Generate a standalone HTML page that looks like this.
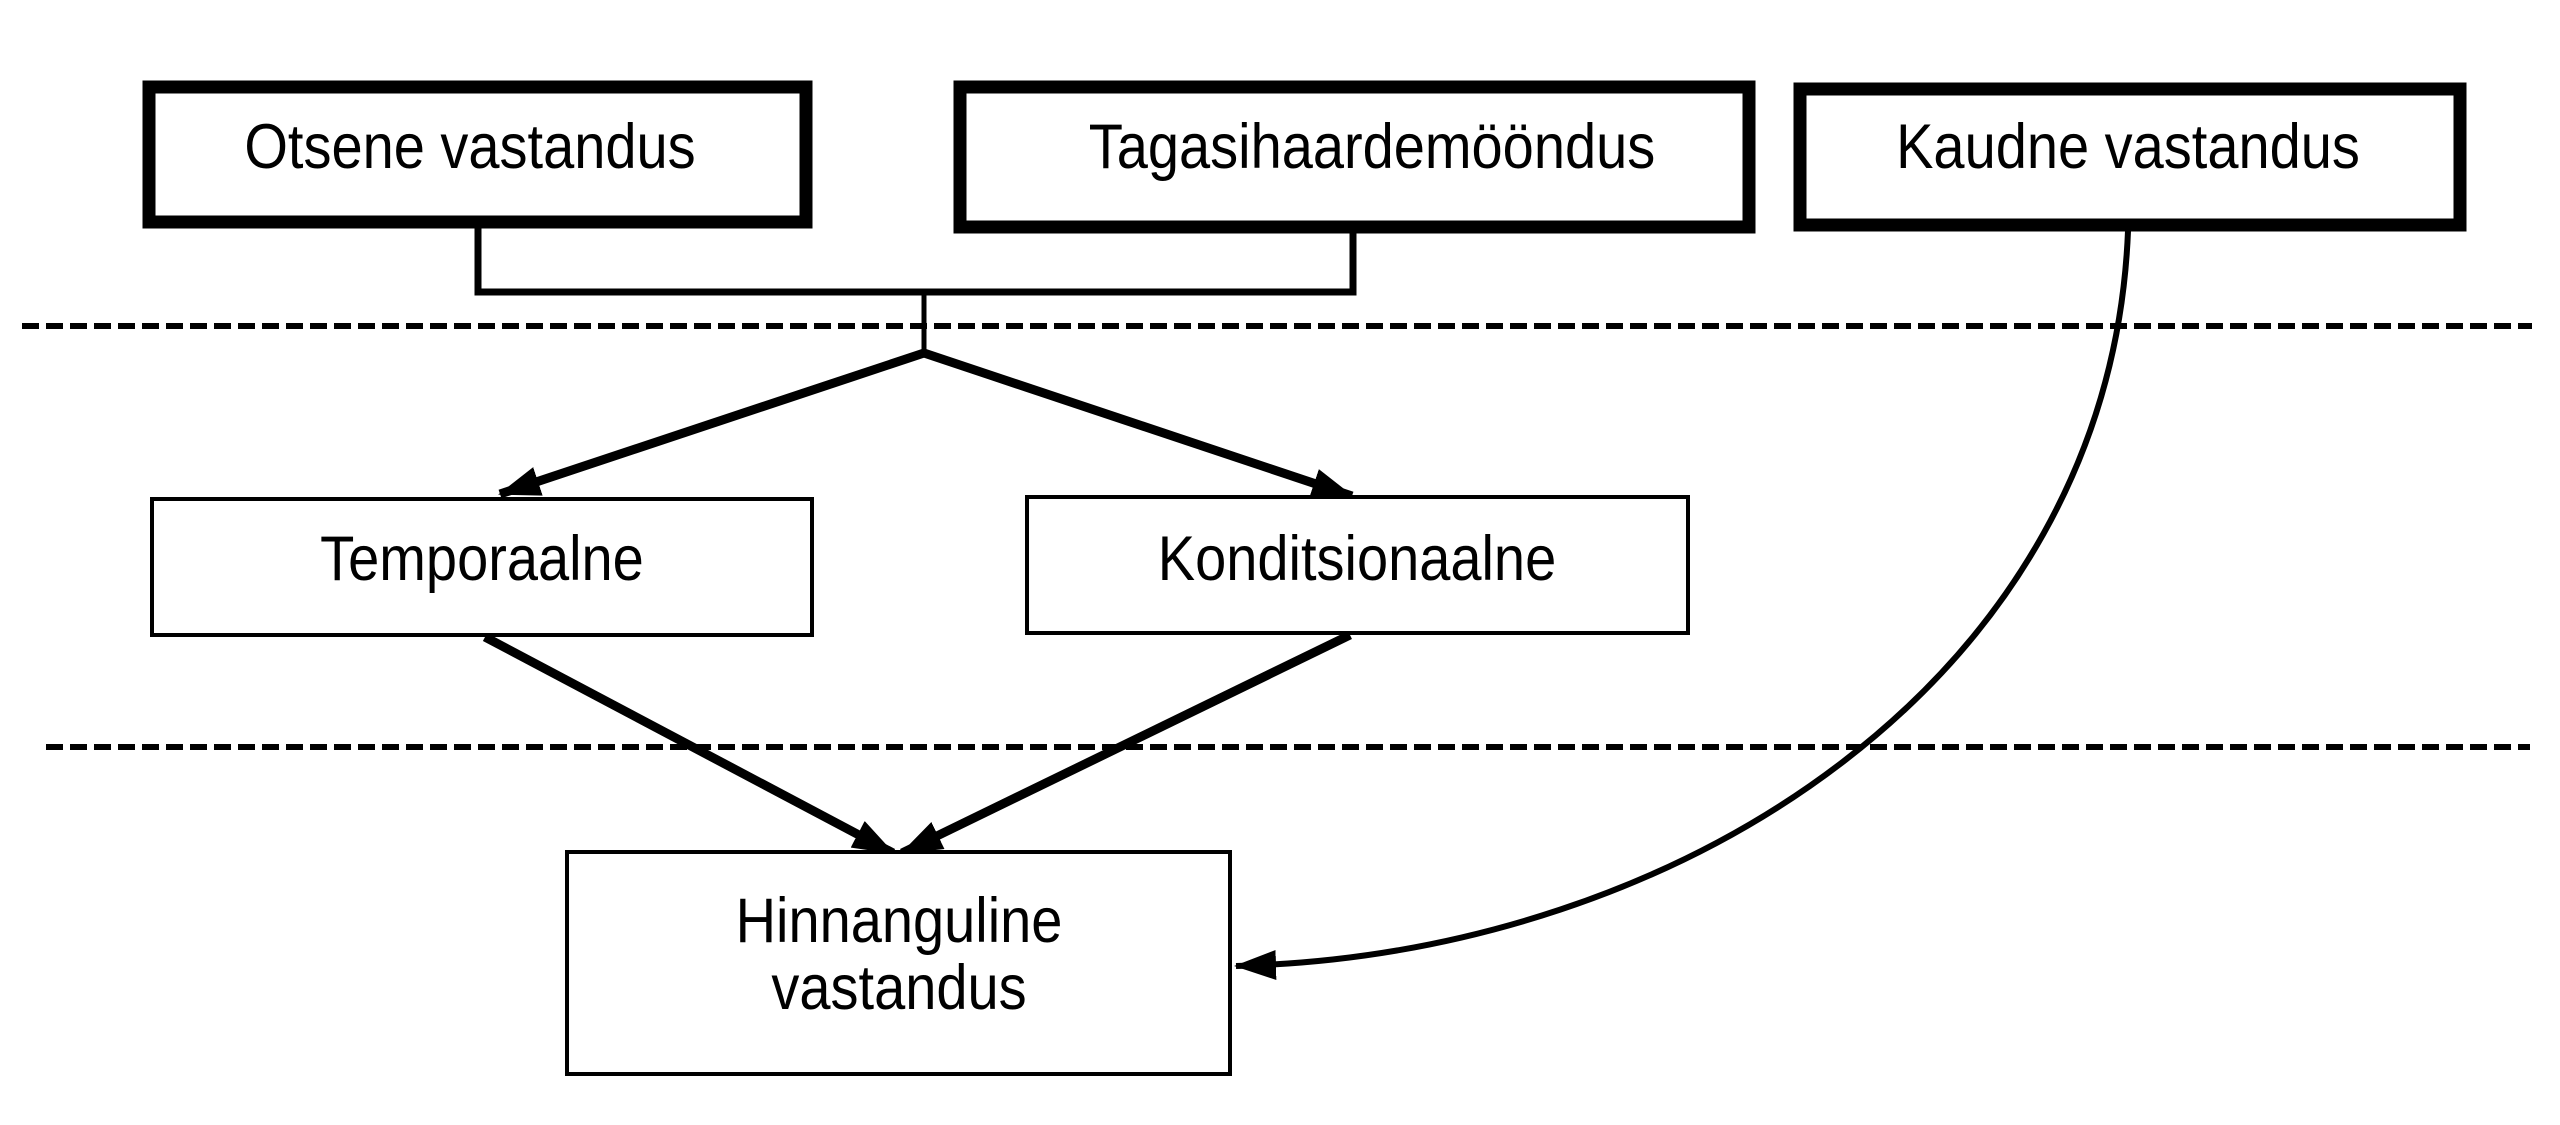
<!DOCTYPE html>
<html><head><style>
html,body{margin:0;padding:0;background:#fff;width:2560px;height:1125px;overflow:hidden}
text{font-family:"Liberation Sans",Arial,sans-serif;font-size:56px;fill:#000}
</style></head><body>
<svg width="2560" height="1125" viewBox="0 0 2560 1125" xmlns="http://www.w3.org/2000/svg">
<defs>
<marker id="a" markerUnits="userSpaceOnUse" markerWidth="44" markerHeight="30" refX="40" refY="15" orient="auto">
<path d="M0,0 L42,15 L0,30 Z" fill="#000"/>
</marker>
</defs>
<line x1="22" y1="326" x2="2532" y2="326" stroke="#000" stroke-width="6" stroke-dasharray="17,7"/>
<line x1="46" y1="747" x2="2530" y2="747" stroke="#000" stroke-width="6" stroke-dasharray="17,7"/>
<rect x="149" y="87" width="657" height="135" fill="#fff" stroke="#000" stroke-width="13"/>
<rect x="960" y="87" width="789" height="140" fill="#fff" stroke="#000" stroke-width="13"/>
<rect x="1800" y="89" width="660" height="136" fill="#fff" stroke="#000" stroke-width="13"/>
<g transform="translate(0,168) scale(1,1.12)">
<text x="470" y="0" text-anchor="middle">Otsene vastandus</text>
<text x="1372" y="0" text-anchor="middle">Tagasihaardemööndus</text>
<text x="2128" y="0" text-anchor="middle">Kaudne vastandus</text>
</g>
<polyline points="478,228 478,292 1353,292 1353,233" fill="none" stroke="#000" stroke-width="7"/>
<line x1="924" y1="292" x2="924" y2="353" stroke="#000" stroke-width="5"/>
<line x1="924" y1="353" x2="500" y2="494" stroke="#000" stroke-width="9" marker-end="url(#a)"/>
<line x1="924" y1="353" x2="1352" y2="496" stroke="#000" stroke-width="9" marker-end="url(#a)"/>
<rect x="152" y="499" width="660" height="136" fill="#fff" stroke="#000" stroke-width="4"/>
<rect x="1027" y="497" width="661" height="136" fill="#fff" stroke="#000" stroke-width="4"/>
<g transform="translate(0,580) scale(1,1.12)">
<text x="482" y="0" text-anchor="middle">Temporaalne</text>
<text x="1357" y="0" text-anchor="middle">Konditsionaalne</text>
</g>
<line x1="485" y1="637" x2="893" y2="853" stroke="#000" stroke-width="9" marker-end="url(#a)"/>
<line x1="1350" y1="635" x2="902" y2="853" stroke="#000" stroke-width="9" marker-end="url(#a)"/>
<rect x="567" y="852" width="663" height="222" fill="#fff" stroke="#000" stroke-width="4"/>
<text x="899" y="942" text-anchor="middle" transform="translate(0,-113) scale(1,1.12)" style="display:none"></text>
<g transform="translate(0,942) scale(1,1.12)">
<text x="899" y="0" text-anchor="middle">Hinnanguline</text>
<text x="899" y="60" text-anchor="middle">vastandus</text>
</g>
<path d="M2128,231 C2110,680 1680,955 1236,966" fill="none" stroke="#000" stroke-width="6" marker-end="url(#a)"/>
</svg>
</body></html>
